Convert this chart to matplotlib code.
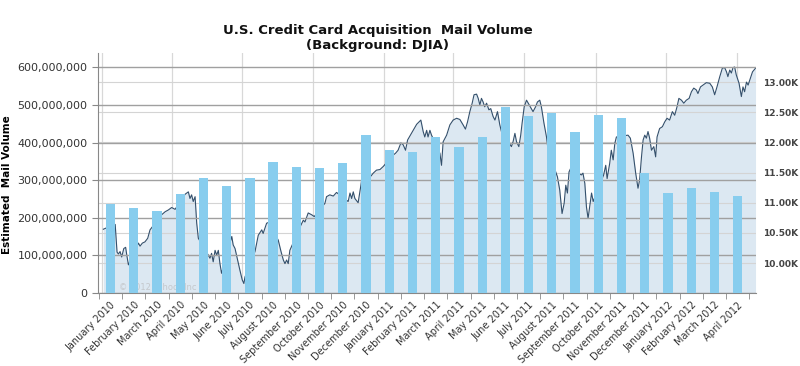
import numpy as np
import matplotlib
matplotlib.use("Agg")
import matplotlib.pyplot as plt
from matplotlib.ticker import FixedLocator, FuncFormatter

months = ["January 2010", "February 2010", "March 2010", "April 2010", "May 2010",
          "June 2010", "July 2010", "August 2010", "September 2010", "October 2010",
          "November 2010", "December 2010", "January 2011", "February 2011",
          "March 2011", "April 2011", "May 2011", "June 2011", "July 2011",
          "August 2011", "September 2011", "October 2011", "November 2011",
          "December 2011", "January 2012", "February 2012", "March 2012", "April 2012"]

# mail volume, millions of pieces
mail_volume = [236, 225, 218, 262, 305, 285, 305, 348, 334, 332, 345, 421, 380, 374,
               414, 387, 414, 494, 470, 478, 428, 472, 465, 320, 265, 280, 269, 259]

# DJIA background, x = months since January 2010
djia_x = [-0.31, -0.19, 0.20, 0.28, 0.34, 0.41, 0.48, 0.57, 0.65, 0.70, 0.77, 1.20, 1.27,
          1.37, 1.48, 1.60, 1.70, 2.20, 2.35, 2.49, 2.63, 2.78, 3.21, 3.35, 3.42, 3.49,
          3.56, 3.64, 3.71, 3.78, 4.21, 4.28, 4.35, 4.42, 4.50, 4.57, 4.64, 4.71, 4.78,
          5.22, 5.28, 5.36, 5.47, 5.57, 5.67, 5.74, 5.79, 6.22, 6.36, 6.51, 6.57, 6.72,
          6.79, 7.22, 7.34, 7.44, 7.51, 7.58, 7.65, 7.72, 8.20, 8.30, 8.37, 8.51, 8.66,
          8.77, 9.23, 9.30, 9.44, 9.59, 9.73, 10.23, 10.31, 10.38, 10.45, 10.52, 10.66,
          10.78, 10.83, 11.21, 11.31, 11.45, 11.60, 11.74, 12.17, 12.27, 12.38, 12.50,
          12.60, 12.70, 12.79, 13.18, 13.36, 13.46, 13.53, 13.61, 13.67, 13.75, 13.82,
          14.18, 14.25, 14.32, 14.47, 14.61, 14.75, 14.90, 15.04, 15.18, 15.28, 15.37,
          15.47, 15.57, 15.65, 15.76, 15.83, 15.90, 15.97, 16.04, 16.11, 16.19, 16.29,
          16.37, 16.47, 16.55, 16.66, 16.76, 16.83, 17.26, 17.33, 17.41, 17.48, 17.58,
          17.66, 17.72, 17.81, 17.91, 18.19, 18.30, 18.38, 18.48, 18.55, 18.66, 18.77,
          18.84, 19.24, 19.34, 19.44, 19.53, 19.60, 19.67, 19.74, 19.81, 20.27, 20.34,
          20.42, 20.49, 20.56, 20.63, 20.71, 20.78, 21.23, 21.32, 21.38, 21.49, 21.56,
          21.64, 21.71, 21.78, 22.28, 22.38, 22.50, 22.61, 22.71, 22.78, 22.86, 22.93,
          23.00, 23.07, 23.14, 23.21, 23.29, 23.39, 23.47, 23.53, 23.64, 23.76, 23.86,
          23.96, 24.07, 24.19, 24.29, 24.39, 24.47, 24.58, 24.68, 24.79, 24.91, 25.01,
          25.11, 25.22, 25.29, 25.40, 25.51, 25.65, 25.80, 25.91, 26.01, 26.11, 26.23,
          26.34, 26.44, 26.52, 26.58, 26.66, 26.73, 26.80, 26.87, 26.94, 27.06, 27.16,
          27.23, 27.30, 27.38, 27.45, 27.52, 27.64, 27.77]
djia = [10560, 10580, 10640, 10180, 10150, 10190, 10100, 10240, 10260, 10130, 9970, 10330,
        10280, 10330, 10350, 10410, 10550, 10800, 10850, 10880, 10920, 10890, 11140, 11180,
        11070, 11130, 11020, 11100, 10660, 10410, 10130, 10080, 10160, 10020, 10210, 10130,
        10210, 9990, 9830, 10440, 10300, 10240, 10050, 9880, 9720, 9660, 9770, 10190, 10460,
        10550, 10490, 10660, 10670, 10380, 10190, 10050, 9990, 10050, 9990, 10210, 10630,
        10710, 10680, 10830, 10800, 10770, 10990, 11100, 11130, 11110, 11170, 11020, 11160,
        11070, 11180, 11070, 11000, 11290, 11430, 11440, 11490, 11540, 11550, 11600, 11790,
        11820, 11870, 11990, 11960, 11870, 12040, 12300, 12370, 12180, 12090, 12200, 12090,
        12200, 12120, 11820, 11620, 12010, 12120, 12290, 12370, 12400, 12380, 12290, 12220,
        12340, 12510, 12650, 12790, 12800, 12730, 12620, 12730, 12670, 12590, 12650, 12540,
        12560, 12430, 12370, 12510, 12290, 12180, 11930, 12010, 12150, 12010, 11930, 12120,
        12320, 12590, 12700, 12510, 12590, 12670, 12700, 12590, 12320, 12090, 11870, 11430,
        11210, 10820, 10990, 11290, 11160, 11510, 11570, 11460, 11490, 11320, 10930, 10740,
        10930, 11160, 11020, 11460, 11620, 11400, 11650, 11870, 11710, 11980, 12090, 12120,
        12070, 11820, 11490, 11240, 11380, 11760, 12040, 12120, 12070, 12180, 12070, 11870,
        11930, 11760, 12090, 12230, 12260, 12340, 12400, 12370, 12510, 12450, 12590, 12730,
        12700, 12650, 12700, 12730, 12840, 12900, 12870, 12810, 12920, 12950, 12990, 12980,
        12920, 12790, 12920, 13090, 13230, 13240, 13170, 13090, 13200, 13150, 13240, 13250,
        13120, 12980, 12760, 12920, 12840, 13000, 12950, 13030, 13170, 13230]

# quarter lines of the background chart (months since January 2010)
quarter_lines = [-0.37, 2.65, 5.66, 8.71, 11.77, 14.74, 17.79, 20.89, 23.9, 26.96]

fig = plt.figure(figsize=(8, 3.66), dpi=100)
ax = fig.add_axes([0.1225, 0.1995, 0.8225, 0.6555])
bg = ax.twinx()

# background DJIA
bg.fill_between(djia_x, djia, 9500, color="#dce8f2", lw=0, zorder=1)
bg.plot(djia_x, djia, color="#34506c", lw=0.8, zorder=3)
bg.set_ylim(9503, 13481)
bg.yaxis.set_major_locator(FixedLocator(np.arange(10000, 13001, 500)))
bg.yaxis.set_major_formatter(FuncFormatter(lambda v, p: "%.2fK" % (v / 1000)))
bg.tick_params(axis="y", length=0, labelsize=6.5, labelcolor="#444444", pad=5)
for t in bg.get_yticklabels():
    t.set_fontweight("bold")
bg.grid(axis="y", color="#d4d4d4", lw=0.8, zorder=2)
for q in quarter_lines:
    bg.axvline(q, color="#d8d8d8", lw=0.9, zorder=0.5)
for s in bg.spines.values():
    s.set_visible(False)
bg.text(0.35, 9560, "\u00a9 2012 Yahoo! Inc", fontsize=6, color="#c4c8cc", zorder=2)

# bars on top
ax.set_zorder(bg.get_zorder() + 1)
ax.patch.set_visible(False)
x = np.arange(len(months))
ax.bar(x, np.array(mail_volume) * 1e6, width=0.4, color="#88cdee", zorder=3)
ax.set_xlim(-0.54, 27.79)
ax.set_ylim(0, 638e6)
ax.yaxis.set_major_locator(FixedLocator(np.arange(0, 601e6, 100e6)))
ax.yaxis.set_major_formatter(FuncFormatter(lambda v, p: "{:,.0f}".format(v)))
ax.grid(axis="y", color="#a0a0a0", lw=1.0)
for gl in ax.get_ygridlines():
    gl.set_zorder(2)
ax.tick_params(axis="y", labelsize=8, labelcolor="#333333", length=4, color="#888888")
ax.set_xticks(x)
ax.set_xticklabels(months, rotation=45, ha="right", rotation_mode="anchor",
                   fontsize=7, color="#333333")
ax.tick_params(axis="x", which="major", length=0, pad=5)
ax.xaxis.set_minor_locator(FixedLocator(np.arange(-0.5, 28, 1)))
ax.tick_params(axis="x", which="minor", length=4, color="#888888")
for side in ["top", "right"]:
    ax.spines[side].set_visible(False)
ax.spines["left"].set_color("#888888")
ax.spines["bottom"].set_color("#888888")
ax.set_ylabel("Estimated  Mail Volume", fontsize=7.5, fontweight="bold")
ax.yaxis.set_label_coords(-0.131, 0.45)

fig.text(0.4725, 0.935, "U.S. Credit Card Acquisition  Mail Volume\n(Background: DJIA)",
         ha="center", va="top", fontsize=9.5, fontweight="bold", color="#111111",
         linespacing=1.2)

fig.savefig("out.png", dpi=100)
